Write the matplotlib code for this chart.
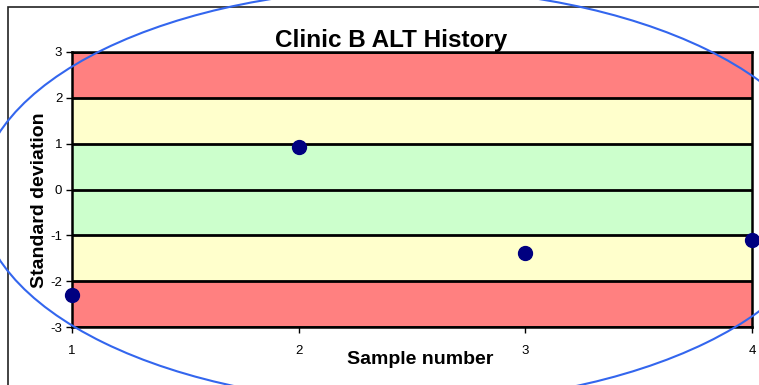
import matplotlib
matplotlib.use("Agg")
import matplotlib.pyplot as plt
from matplotlib.patches import Ellipse, Rectangle

plt.rcParams['font.family'] = ['Liberation Sans', 'DejaVu Sans']
plt.rcParams['axes.unicode_minus'] = False

# data
samples = [1, 2, 3, 4]
std_dev = [-2.30, 0.93, -1.39, -1.10]

band_lo = [-3, -2, -1, 1, 2]
band_hi = [-2, -1, 1, 2, 3]
band_colors = ['#FF8080', '#FFFFCC', '#CCFFCC', '#FFFFCC', '#FF8080']
grid_levels = [-3, -2, -1, 0, 1, 2, 3]

W, H = 759, 385
fig = plt.figure(figsize=(W / 100, H / 100), dpi=100)

# chart area border (left/top visible only)
fig.patches.append(Rectangle((8 / W, -0.1), 1.2, 1.1 - 7 / H, transform=fig.transFigure,
                             fill=False, edgecolor='#222222', lw=1.2))

ax = fig.add_axes([72 / W, (H - 327) / H, 680 / W, 275 / H])

for lo, hi, c in zip(band_lo, band_hi, band_colors):
    ax.axhspan(lo, hi, color=c, lw=0, zorder=0)
for lv in grid_levels:
    ax.axhline(lv, color='black', lw=2, zorder=1)

ax.plot(samples, std_dev, 'o', color='#000080', markersize=10, clip_on=False, zorder=5)

ax.set_xlim(1, 4)
ax.set_ylim(-3, 3)
ax.set_xticks(samples)
ax.set_yticks(grid_levels)
ax.tick_params(axis='both', labelsize=9.5, length=4, width=1, direction='out')
ax.tick_params(axis='x', pad=9)
ax.tick_params(axis='y', pad=3)
for s in ax.spines.values():
    s.set_linewidth(1.8)

fig.text(391 / W, 1 - 47 / H, 'Clinic B ALT History', ha='center', va='baseline',
         fontsize=17.5, fontweight='bold')
fig.text(420 / W, 1 - 364 / H, 'Sample number', ha='center', va='baseline',
         fontsize=14, fontweight='bold')
fig.text(40 / W, 1 - 200 / H, 'Standard deviation', ha='center', va='center',
         rotation=90, fontsize=14, fontweight='bold')

# blue ellipse drawn over the chart
fig.patches.append(Ellipse((405 / W, 1 - 196 / H), 852 / W, 415 / H, transform=fig.transFigure,
                           fill=False, edgecolor='#3366EE', lw=1.5, zorder=10))

fig.savefig('out.png', dpi=100)
